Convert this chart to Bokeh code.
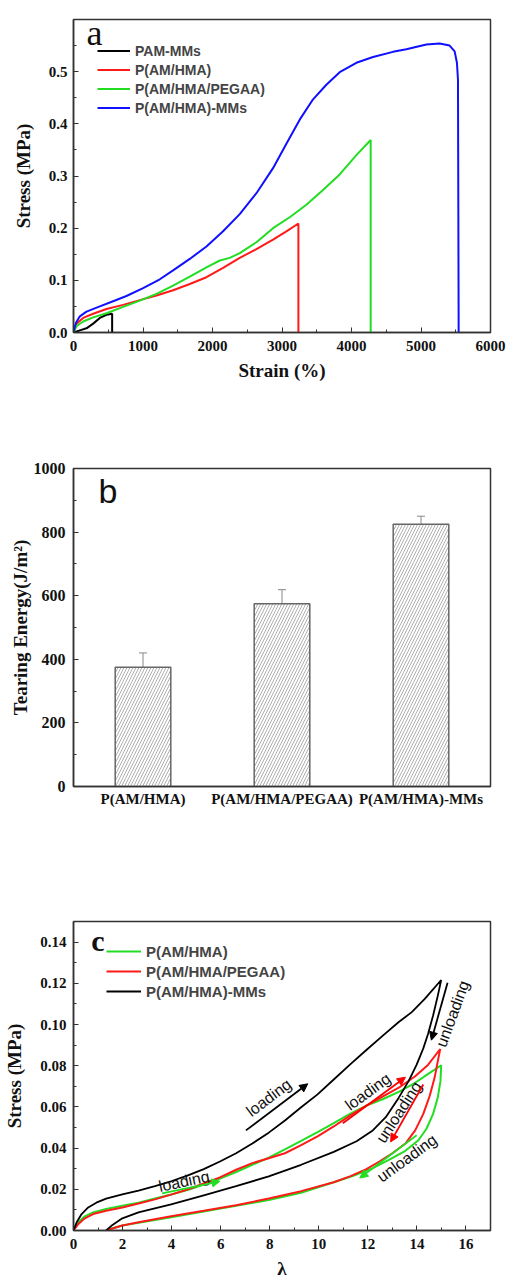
import math
from bokeh.plotting import figure
from bokeh.layouts import column
from bokeh.models import (Range1d, FactorRange, SingleIntervalTicker, NumeralTickFormatter,
                          Legend, LegendItem, Label, Arrow, NormalHead, Whisker, ColumnDataSource, TeeHead)
from bokeh.embed import file_html
from bokeh.resources import INLINE

# ---------------- Panel a data (strain %, stress MPa) ----------------
pam_x = [0, 91, 187, 283, 379, 475, 556, 556]
pam_y = [0, 0.004, 0.008, 0.017, 0.028, 0.034, 0.036, 0]
hma_x = [0, 43, 139, 283, 475, 714, 954, 1194, 1433, 1673, 1913, 2152, 2392, 2632, 2871,
         3063, 3236, 3236]
hma_y = [0, 0.017, 0.028, 0.036, 0.045, 0.053, 0.062, 0.071, 0.081, 0.093, 0.106, 0.124,
         0.143, 0.160, 0.178, 0.194, 0.209, 0]
peg_x = [0, 43, 139, 283, 475, 714, 954, 1194, 1433, 1673, 1913, 2105, 2248, 2392, 2632,
         2871, 3111, 3351, 3590, 3830, 4070, 4276, 4276]
peg_y = [0, 0.012, 0.021, 0.029, 0.037, 0.049, 0.061, 0.074, 0.090, 0.107, 0.125, 0.138,
         0.143, 0.152, 0.173, 0.200, 0.221, 0.245, 0.273, 0.303, 0.340, 0.369, 0]
mms_x = [0, 34, 91, 187, 379, 570, 762, 1002, 1242, 1433, 1673, 1913, 2152, 2392, 2632,
         2871, 3063, 3255, 3447, 3638, 3830, 4070, 4310, 4597, 4789, 5077, 5268, 5412,
         5484, 5517, 5532, 5542]
mms_y = [0, 0.018, 0.031, 0.040, 0.050, 0.060, 0.070, 0.085, 0.102, 0.119, 0.141, 0.165,
         0.194, 0.227, 0.267, 0.315, 0.362, 0.408, 0.447, 0.475, 0.499, 0.517, 0.528,
         0.538, 0.543, 0.552, 0.554, 0.550, 0.539, 0.517, 0.485, 0]

# ---------------- Panel b data ----------------
cats = ["P(AM/HMA)", "P(AM/HMA/PEGAA)", "P(AM/HMA)-MMs"]
energy = [375, 575, 825]
err = [45, 44, 25]

# ---------------- Panel c data (lambda, stress MPa) ----------------
c_mms_x = [0, 0.13, 0.33, 0.60, 0.93, 1.33, 1.99, 2.65, 3.32, 3.98, 4.64, 5.31, 5.97, 6.63,
           7.29, 7.96, 8.62, 9.28, 9.95, 10.61, 11.27, 11.94, 12.6, 13.26, 13.79, 14.32,
           14.99, 14.85, 14.66, 14.46, 14.26, 13.99, 13.66, 13.26, 12.73, 12.2, 11.54,
           10.61, 9.28, 7.96, 6.63, 5.31, 3.98, 2.65, 1.99, 1.59, 1.33]
c_mms_y = [0, 0.0040, 0.0080, 0.0112, 0.0135, 0.0155, 0.0175, 0.0194, 0.0215, 0.0239,
           0.0266, 0.0298, 0.0335, 0.0375, 0.0422, 0.0475, 0.0534, 0.0598, 0.0661, 0.0733,
           0.0805, 0.0876, 0.0945, 0.1012, 0.1060, 0.1124, 0.1216, 0.1139, 0.1044, 0.0956,
           0.0884, 0.0805, 0.0725, 0.0645, 0.0550, 0.0486, 0.0433, 0.0382, 0.0319, 0.0263,
           0.0215, 0.0171, 0.0127, 0.0088, 0.0059, 0.0027, 0]
c_peg_x = [0, 0.2, 0.46, 0.8, 1.33, 1.99, 2.65, 3.32, 3.98, 4.64, 5.31, 5.97, 6.63, 7.29,
           7.96, 8.62, 9.28, 9.95, 10.61, 11.27, 11.94, 12.6, 13.26, 13.93, 14.46, 14.95,
           14.85, 14.72, 14.52, 14.26, 13.93, 13.53, 13.0, 12.47, 11.94, 11.27, 10.61, 9.28,
           7.96, 6.63, 5.31, 3.98, 2.65, 1.99, 1.33]
c_peg_y = [0, 0.0032, 0.0059, 0.0080, 0.0096, 0.0112, 0.0131, 0.0151, 0.0174, 0.0199,
           0.0228, 0.0258, 0.0295, 0.0327, 0.0351, 0.0375, 0.0414, 0.0457, 0.0505, 0.0558,
           0.0606, 0.0650, 0.0693, 0.0749, 0.0805, 0.0881, 0.0821, 0.0741, 0.0653, 0.0566,
           0.0486, 0.0422, 0.0375, 0.0335, 0.0298, 0.0263, 0.0234, 0.0191, 0.0155, 0.0123,
           0.0096, 0.0069, 0.0040, 0.0024, 0]
c_hma_x = [0, 0.2, 0.46, 0.8, 1.33, 1.99, 2.65, 3.32, 3.98, 4.64, 5.31, 5.97, 6.63, 7.29,
           7.96, 8.62, 9.28, 9.95, 10.61, 11.27, 11.94, 12.6, 13.26, 13.93, 14.46, 14.99,
           14.96, 14.85, 14.66, 14.39, 14.06, 13.53, 12.86, 12.2, 11.41, 10.61, 9.28, 7.96,
           6.63, 5.31, 3.98, 2.65, 1.99, 1.59, 1.33]
c_hma_y = [0, 0.0040, 0.0069, 0.0088, 0.0104, 0.0120, 0.0135, 0.0155, 0.0175, 0.0196,
           0.0223, 0.0252, 0.0284, 0.0319, 0.0354, 0.0394, 0.0435, 0.0478, 0.0521, 0.0566,
           0.0606, 0.0637, 0.0673, 0.0717, 0.0760, 0.0802, 0.0725, 0.0645, 0.0566, 0.0494,
           0.0438, 0.0387, 0.0343, 0.0303, 0.0266, 0.0234, 0.0183, 0.0148, 0.0120, 0.0092,
           0.0064, 0.0037, 0.0024, 0.0011, 0]

# annotations (text, x, y, angle deg) and arrows (x0, y0, x1, y1, color)
c_texts = [("loading", 7.96, 0.0645, 37), ("loading", 12.0, 0.0674, 36),
           ("unloading", 15.45, 0.1052, 70), ("unloading", 13.26, 0.0574, 57),
           ("unloading", 13.59, 0.0351, 36), ("loading", 4.51, 0.0239, 12)]
c_arrows = [(7.03, 0.0486, 9.55, 0.0712, "black"), (10.98, 0.0521, 13.53, 0.0744, "red"),
            (15.25, 0.1203, 14.59, 0.0924, "black"), (14.26, 0.0709, 12.93, 0.0430, "red"),
            (13.99, 0.0462, 11.67, 0.0255, "#22dd22"), (3.61, 0.0180, 5.97, 0.0239, "#22dd22")]

SERIF = "Liberation Serif"
SANS = "Liberation Sans"
GREEN = "#22dd22"
RED = "#ff1a1a"
BLUE = "#1010ff"


def style(p, tick_size="15px"):
    p.outline_line_color = "#333333"
    p.outline_line_width = 1.5
    p.grid.visible = False
    for ax in p.axis:
        ax.major_label_text_font = SERIF
        ax.major_label_text_font_style = "bold"
        ax.major_label_text_font_size = tick_size
        ax.major_label_text_color = "#111111"
        ax.axis_label_text_font = SERIF
        ax.axis_label_text_font_style = "bold"
        ax.axis_label_text_font_size = "19px"
        ax.axis_label_text_color = "#111111"
        ax.axis_line_color = "#333333"
        ax.axis_line_width = 1.5
        ax.major_tick_in = 5
        ax.major_tick_out = 0
        ax.minor_tick_in = 3
        ax.minor_tick_out = 0
        ax.major_tick_line_color = "#333333"
        ax.minor_tick_line_color = "#333333"


# ---------------- Panel a ----------------
pa = figure(width=506, height=400, output_backend="svg", toolbar_location=None,
            x_range=Range1d(0, 6000), y_range=Range1d(0, 0.6),
            min_border_left=73, min_border_right=16, min_border_top=19, min_border_bottom=68)
style(pa)
pa.xaxis.ticker = SingleIntervalTicker(interval=1000, num_minor_ticks=2)
pa.yaxis.ticker = SingleIntervalTicker(interval=0.1, num_minor_ticks=2)
pa.yaxis.formatter = NumeralTickFormatter(format="0.0")
pa.xaxis.axis_label = "Strain (%)"
pa.yaxis.axis_label = "Stress (MPa)"
pa.xaxis.major_label_standoff = 8
pa.xaxis.axis_label_standoff = 6
pa.yaxis.major_label_standoff = 6
pa.yaxis.axis_label_standoff = 12

ra1 = pa.line(pam_x, pam_y, line_color="black", line_width=2)
ra2 = pa.line(hma_x, hma_y, line_color=RED, line_width=2)
ra3 = pa.line(peg_x, peg_y, line_color=GREEN, line_width=2)
ra4 = pa.line(mms_x, mms_y, line_color=BLUE, line_width=2)
leg_a = Legend(items=[LegendItem(label="PAM-MMs", renderers=[ra1]),
                      LegendItem(label="P(AM/HMA)", renderers=[ra2]),
                      LegendItem(label="P(AM/HMA/PEGAA)", renderers=[ra3]),
                      LegendItem(label="P(AM/HMA)-MMs", renderers=[ra4])],
               location=(24, 215), padding=0, margin=0, spacing=0,
               glyph_width=33, glyph_height=19, label_height=19, label_standoff=5,
               label_text_font=SANS, label_text_font_style="bold", label_text_font_size="14px",
               background_fill_alpha=0, border_line_color=None)
pa.add_layout(leg_a)
pa.add_layout(Label(x=187, y=0.575, text="a", text_font=SERIF, text_font_size="36px",
                    text_baseline="alphabetic", text_color="#111111"))

# ---------------- Panel b ----------------
pb = figure(width=506, height=420, output_backend="svg", toolbar_location=None,
            x_range=FactorRange(*cats), y_range=Range1d(0, 1000),
            min_border_left=71, min_border_right=8, min_border_top=68, min_border_bottom=34)
style(pb)
pb.yaxis.ticker = SingleIntervalTicker(interval=200, num_minor_ticks=2)
pb.yaxis.axis_label = "Tearing Energy(J/m²)"
pb.yaxis.major_label_standoff = 8
pb.yaxis.axis_label_standoff = 0
pb.xaxis.major_tick_line_color = None
pb.xaxis.minor_tick_line_color = None
pb.xaxis.major_label_standoff = 4
pb.xaxis.major_label_text_font_size = "15px"
pb.yaxis.major_label_text_font_size = "16px"

src_b = ColumnDataSource(dict(cat=cats, val=energy,
                              up=[v + e for v, e in zip(energy, err)],
                              lo=[v - e for v, e in zip(energy, err)]))
pb.vbar(x="cat", top="val", width=0.4, source=src_b, fill_color="white",
        line_color="#666666", line_width=1.5, hatch_pattern="/", hatch_color="#9a9a9a",
        hatch_scale=6, hatch_weight=0.8)
pb.add_layout(Whisker(base="cat", upper="up", lower="lo", source=src_b,
                      line_color="#888888", line_width=1,
                      upper_head=TeeHead(size=8, line_color="#888888"),
                      lower_head=TeeHead(size=8, line_color="#888888")))
pb.add_layout(Label(x=0.18, y=928, text="b", text_font=SANS, text_font_size="34px",
                    text_baseline="alphabetic", text_color="#111111"))

# ---------------- Panel c ----------------
pc = figure(width=506, height=461, output_backend="svg", toolbar_location=None,
            x_range=Range1d(0, 17), y_range=Range1d(0, 0.15),
            min_border_left=70, min_border_right=9, min_border_top=101, min_border_bottom=46)
style(pc)
pc.xaxis.ticker = SingleIntervalTicker(interval=2, num_minor_ticks=2)
pc.yaxis.ticker = SingleIntervalTicker(interval=0.02, num_minor_ticks=2)
pc.yaxis.formatter = NumeralTickFormatter(format="0.00")
pc.xaxis.axis_label = "λ"
pc.yaxis.axis_label = "Stress (MPa)"
pc.xaxis.major_label_standoff = 8
pc.xaxis.axis_label_standoff = 6
pc.yaxis.major_label_standoff = 7
pc.yaxis.axis_label_standoff = 12

rc1 = pc.line(c_hma_x, c_hma_y, line_color=GREEN, line_width=2)
rc2 = pc.line(c_peg_x, c_peg_y, line_color=RED, line_width=2)
rc3 = pc.line(c_mms_x, c_mms_y, line_color="black", line_width=1.8)
leg_c = Legend(items=[LegendItem(label="P(AM/HMA)", renderers=[rc1]),
                      LegendItem(label="P(AM/HMA/PEGAA)", renderers=[rc2]),
                      LegendItem(label="P(AM/HMA)-MMs", renderers=[rc3])],
               location=(33, 229), padding=0, margin=0, spacing=0,
               glyph_width=35, glyph_height=20, label_height=20, label_standoff=5,
               label_text_font=SANS, label_text_font_style="bold", label_text_font_size="15px",
               background_fill_alpha=0, border_line_color=None)
pc.add_layout(leg_c)
pc.add_layout(Label(x=0.72, y=0.141, text="c", text_font=SERIF, text_font_style="bold",
                    text_font_size="30px", text_baseline="alphabetic", text_color="#111111"))

for (t, x, y, a) in c_texts:
    pc.add_layout(Label(x=x, y=y, text=t, angle=math.radians(a), text_font=SANS,
                        text_font_size="16px", text_align="center", text_baseline="middle",
                        text_color="#111111"))
for (x0, y0, x1, y1, col) in c_arrows:
    pc.add_layout(Arrow(x_start=x0, y_start=y0, x_end=x1, y_end=y1, line_color=col,
                        line_width=1.8,
                        end=NormalHead(size=8, fill_color=col, line_color=col)))

layout = column(pa, pb, pc, spacing=0)
open("out.html", "w").write(file_html(layout, INLINE))
